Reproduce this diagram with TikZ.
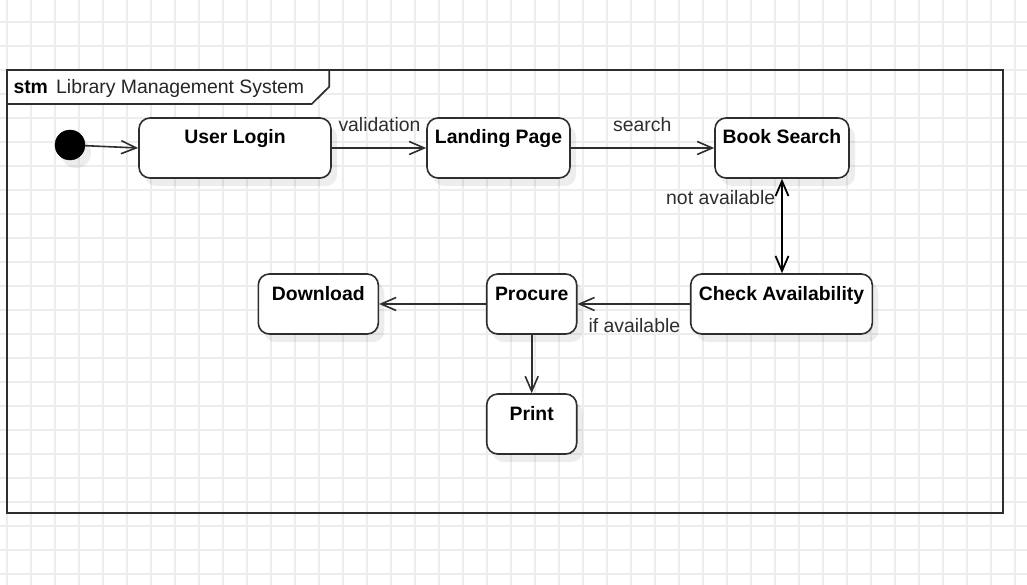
\documentclass[tikz,border=0pt]{standalone}
\usepackage{fontspec}
\setmainfont{Liberation Sans}
\usetikzlibrary{arrows.meta,shadows}
\definecolor{ln}{HTML}{2E2E2E}
\definecolor{gridc}{HTML}{EDEDED}
\begin{document}
\begin{tikzpicture}[x=1pt,y=-1pt,
  statebox/.style={draw=ln, line width=1.6pt, rounded corners=11pt, fill=white, inner sep=0pt,
    drop shadow={shadow xshift=6pt, shadow yshift=-8pt, fill=black, opacity=0.07}},
  ttl/.style={font=\fontsize{19.4}{23}\selectfont\bfseries, anchor=base, inner sep=0pt},
  lbl/.style={font=\fontsize{19.4}{23}\selectfont, text=ln, anchor=base west, inner sep=0pt},
  tr/.style={draw=ln, line width=1.6pt, -{Straight Barb[length=15pt,width=13pt,line width=1.6pt]}},
  trb/.style={draw=black, line width=1.8pt, {Straight Barb[length=15pt,width=13pt,line width=1.8pt]}-{Straight Barb[length=15pt,width=13pt,line width=1.8pt]}},
]
\useasboundingbox (0,0) rectangle (1027,585);
\fill[white] (0,0) rectangle (1027,585);
\foreach \x in {7,31,...,1027} \draw[gridc, line width=1.2pt] (\x,0) -- (\x,585);
\foreach \y in {22,46,...,585} \draw[gridc, line width=1.2pt] (0,\y) -- (1027,\y);

% frame
\draw[ln, line width=1.7pt] (7,70) rectangle (1003,513);
\draw[ln, line width=1.7pt, fill=white] (7,70) -- (329.3,70) -- (329.3,86.7) -- (311.7,104) -- (7,104) -- cycle;
\node (stm) [font=\fontsize{19.4}{23}\selectfont\bfseries, anchor=base west, inner sep=0pt] at (13.3,93.3) {stm};
\node (title) [font=\fontsize{19.4}{23}\selectfont, text=black!85, anchor=base west, inner sep=0pt] at (56,93.3) {Library Management System};

% initial state
\node (init) [circle, fill=black, draw=black, minimum size=30pt, inner sep=0pt,
  drop shadow={shadow xshift=6pt, shadow yshift=-8pt, fill=black, opacity=0.07}] at (70,145) {};

% states
\node (ul) [statebox, minimum width=192pt, minimum height=60pt] at (235,148) {};
\node (lp) [statebox, minimum width=143pt, minimum height=60pt] at (498.5,148) {};
\node (bs) [statebox, minimum width=134pt, minimum height=60pt] at (782,148) {};
\node (ca) [statebox, minimum width=181.6pt, minimum height=60pt] at (781.5,304) {};
\node (pr) [statebox, minimum width=90pt, minimum height=60pt] at (531.7,304) {};
\node (dl) [statebox, minimum width=120pt, minimum height=60pt] at (318.3,304) {};
\node (pn) [statebox, minimum width=90pt, minimum height=60pt] at (531.7,424) {};

\node (ult) [ttl] at (235,144) {User Login};
\node (lpt) [ttl] at (498.5,144) {Landing Page};
\node (bst) [ttl] at (782,144) {Book Search};
\node (cat) [ttl] at (781.5,300) {Check Availability};
\node (prt) [ttl] at (531.7,300) {Procure};
\node (dlt) [ttl] at (318.3,300) {Download};
\node (pnt) [ttl] at (531.7,420) {Print};

% transitions
\draw[tr] (init) -- (ul.west);
\draw[tr] (ul.east) -- (lp.west);
\draw[tr] (lp.east) -- (bs.west);
\draw[trb] (bs.south) -- (bs.south |- ca.north);
\draw[tr] (ca.west) -- (pr.east);
\draw[tr] (pr.west) -- (dl.east);
\draw[tr] (pr.south) -- (pn.north);

% labels
\node (l1) [lbl] at (338.3,131.7) {validation};
\node (l2) [lbl] at (613,131.7) {search};
\node (l3) [lbl] at (666,205) {not available};
\node (l4) [lbl] at (588.3,332.3) {if available};
\end{tikzpicture}
\end{document}
